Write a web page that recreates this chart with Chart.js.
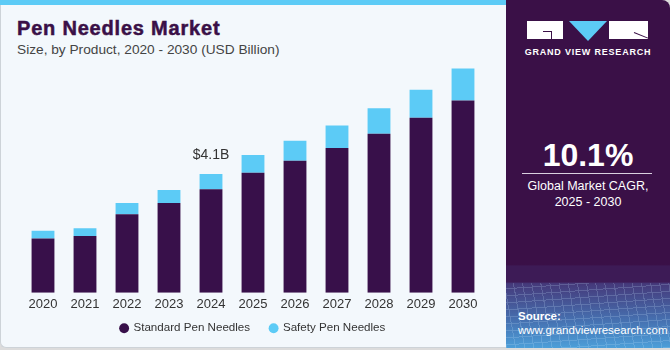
<!DOCTYPE html>
<html>
<head>
<meta charset="utf-8">
<script src="https://cdn.jsdelivr.net/npm/chart.js@4.4.1/dist/chart.umd.min.js"></script>
<style>
  html, body { margin: 0; padding: 0; }
  body { width: 670px; height: 350px; position: relative; overflow: hidden; background: #dcdcdc; font-family: "Liberation Sans", Arial, sans-serif; }
  #left { position: absolute; left: 0; top: 0; width: 505px; height: 347px; background: #f3f8fc; border-left: 1px solid #cdd3d8; border-bottom: 1px solid #cdd3d8; border-bottom-left-radius: 6px; }
  #strip { position: absolute; left: 0; top: 0; width: 506px; height: 5px; background: #5ccbf6; }
  #title { position: absolute; left: 17px; top: 17px; font-size: 20px; font-weight: bold; color: #3a1047; letter-spacing: 0.8px; -webkit-text-stroke: 0.5px #3a1047; }
  #subtitle { position: absolute; left: 17px; top: 42px; font-size: 13.7px; color: #444; }
  #right { position: absolute; left: 506px; top: 0; width: 164px; height: 348px; border-top-right-radius: 8px; overflow: hidden;
    background: linear-gradient(to bottom, #3a1047 0%, #3a1047 76%, #3d1b56 76.5%, #3d1b56 81%, #45397a 81.5%, #4670b0 92%, #4c9fd9 100%); }
  #grid { position: absolute; left: 0; top: 283px; width: 164px; height: 65px; opacity: 0.22;
    background-image: repeating-linear-gradient(80deg, rgba(200,230,255,0.9) 0 1px, transparent 1px 9px),
                      repeating-linear-gradient(-4deg, rgba(200,230,255,0.9) 0 1px, transparent 1px 7px); }
  canvas { position: absolute; left: 0; top: 0; }
  .wbox { position: absolute; background: #fff; }
  .dline { position: absolute; background: #3a1047; }
  #tri { position: absolute; left: 63px; top: 21px; width: 0; height: 0; border-left: 19px solid transparent; border-right: 19px solid transparent; border-top: 20px solid #5ccbf6; }
  #brand { position: absolute; left: 0; width: 164px; top: 47px; text-align: center; color: #fff; font-size: 9px; font-weight: bold; letter-spacing: 0.8px; }
  #cagr { position: absolute; left: 0; width: 164px; top: 137px; text-align: center; color: #fff; font-size: 32px; font-weight: bold; }
  #rule { position: absolute; left: 16px; width: 130px; top: 173px; height: 1px; background: #d9d0e0; }
  #cagrtxt { position: absolute; left: 0; width: 164px; top: 178px; text-align: center; color: #fff; font-size: 12.5px; line-height: 16px; }
  #src { position: absolute; left: 12px; top: 309px; color: #fff; font-size: 11.5px; line-height: 14px; }
</style>
</head>
<body>
<div id="left"></div>
<div id="strip"></div>
<div id="title">Pen Needles Market</div>
<div id="subtitle">Size, by Product, 2020 - 2030 (USD Billion)</div>
<div id="right">
  <div id="grid"></div>
  <div class="wbox" style="left:21px;top:21px;width:36px;height:18px;"></div>
  <div class="dline" style="left:37px;top:31px;width:9px;height:1px;"></div>
  <div class="dline" style="left:45px;top:31px;width:1px;height:8px;"></div>
  <div id="tri"></div>
  <div class="wbox" style="left:103px;top:21px;width:39px;height:18px;"></div>
  <div class="dline" style="left:128px;top:32px;width:15px;height:1px;transform:rotate(22deg);transform-origin:left center;"></div>
  <div id="brand">GRAND VIEW RESEARCH</div>
  <div id="cagr">10.1%</div>
  <div id="rule"></div>
  <div id="cagrtxt">Global Market CAGR,<br>2025 - 2030</div>
  <div id="src"><b>Source:</b><br>www.grandviewresearch.com</div>
</div>
<canvas id="chart" width="506" height="350"></canvas>
<script>
// values (USD Billion)
const years = ['2020', '2021', '2022', '2023', '2024', '2025', '2026', '2027', '2028', '2029', '2030'];
const standardPen = [1.87, 1.96, 2.71, 3.10, 3.57, 4.14, 4.56, 5.00, 5.49, 6.04, 6.64];
const safetyPen = [0.27, 0.27, 0.39, 0.45, 0.53, 0.62, 0.69, 0.77, 0.88, 0.97, 1.10];
const calloutIndex = 4;
const calloutText = '$4.1B';
const axisSqueeze = 14;

// label above the 2024 bar
const calloutPlugin = {
    id: 'callout',
    afterDatasetsDraw(chart) {
        const ctx = chart.ctx;
        const x = chart.scales.x.getPixelForValue(calloutIndex);
        const total = standardPen[calloutIndex] + safetyPen[calloutIndex];
        const y = chart.scales.y.getPixelForValue(total);
        ctx.save();
        ctx.font = '14px "Liberation Sans", Arial, sans-serif';
        ctx.fillStyle = '#333';
        ctx.textAlign = 'center';
        ctx.textBaseline = 'bottom';
        ctx.fillText(calloutText, x, y - 12);
        ctx.restore();
    }
};

// give the squeezed x axis its full box back so the labels are not clipped
const unclipPlugin = {
    id: 'unclip',
    afterLayout(chart) {
        const s = chart.scales.x;
        s.bottom += axisSqueeze;
        s.height += axisSqueeze;
    }
};

const ctx = document.getElementById('chart').getContext('2d');
const chart = new Chart(ctx, {
    type: 'bar',
    data: {
        labels: years,
        datasets: [
            {
                label: 'Standard Pen Needles',
                data: standardPen,
                backgroundColor: '#38104a',
                borderWidth: 0
            },
            {
                label: 'Safety Pen Needles',
                data: safetyPen,
                backgroundColor: '#5ccbf6',
                borderWidth: 0
            }
        ]
    },
    options: {
        responsive: false,
        animation: false,
        layout: {
            padding: { left: 22, right: 22, top: 61, bottom: 6 }
        },
        datasets: {
            bar: { categoryPercentage: 0.8, barPercentage: 0.68 }
        },
        scales: {
            x: {
                stacked: true,
                grid: { display: false, drawTicks: false },
                border: { display: false },
                ticks: {
                    color: '#333',
                    padding: 4,
                    font: { family: '"Liberation Sans", Arial, sans-serif', size: 13 }
                },
                // let the tick labels sit closer to the legend
                afterFit(scale) { scale.height -= axisSqueeze; }
            },
            y: {
                stacked: true,
                display: false,
                min: 0,
                max: 8
            }
        },
        plugins: {
            legend: {
                position: 'bottom',
                labels: {
                    usePointStyle: true,
                    pointStyle: 'circle',
                    boxWidth: 7,
                    boxHeight: 7,
                    padding: 20,
                    color: '#333',
                    font: { family: '"Liberation Sans", Arial, sans-serif', size: 11.6 }
                }
            },
            tooltip: { enabled: false }
        }
    },
    plugins: [calloutPlugin, unclipPlugin]
});
</script>
</body>
</html>
